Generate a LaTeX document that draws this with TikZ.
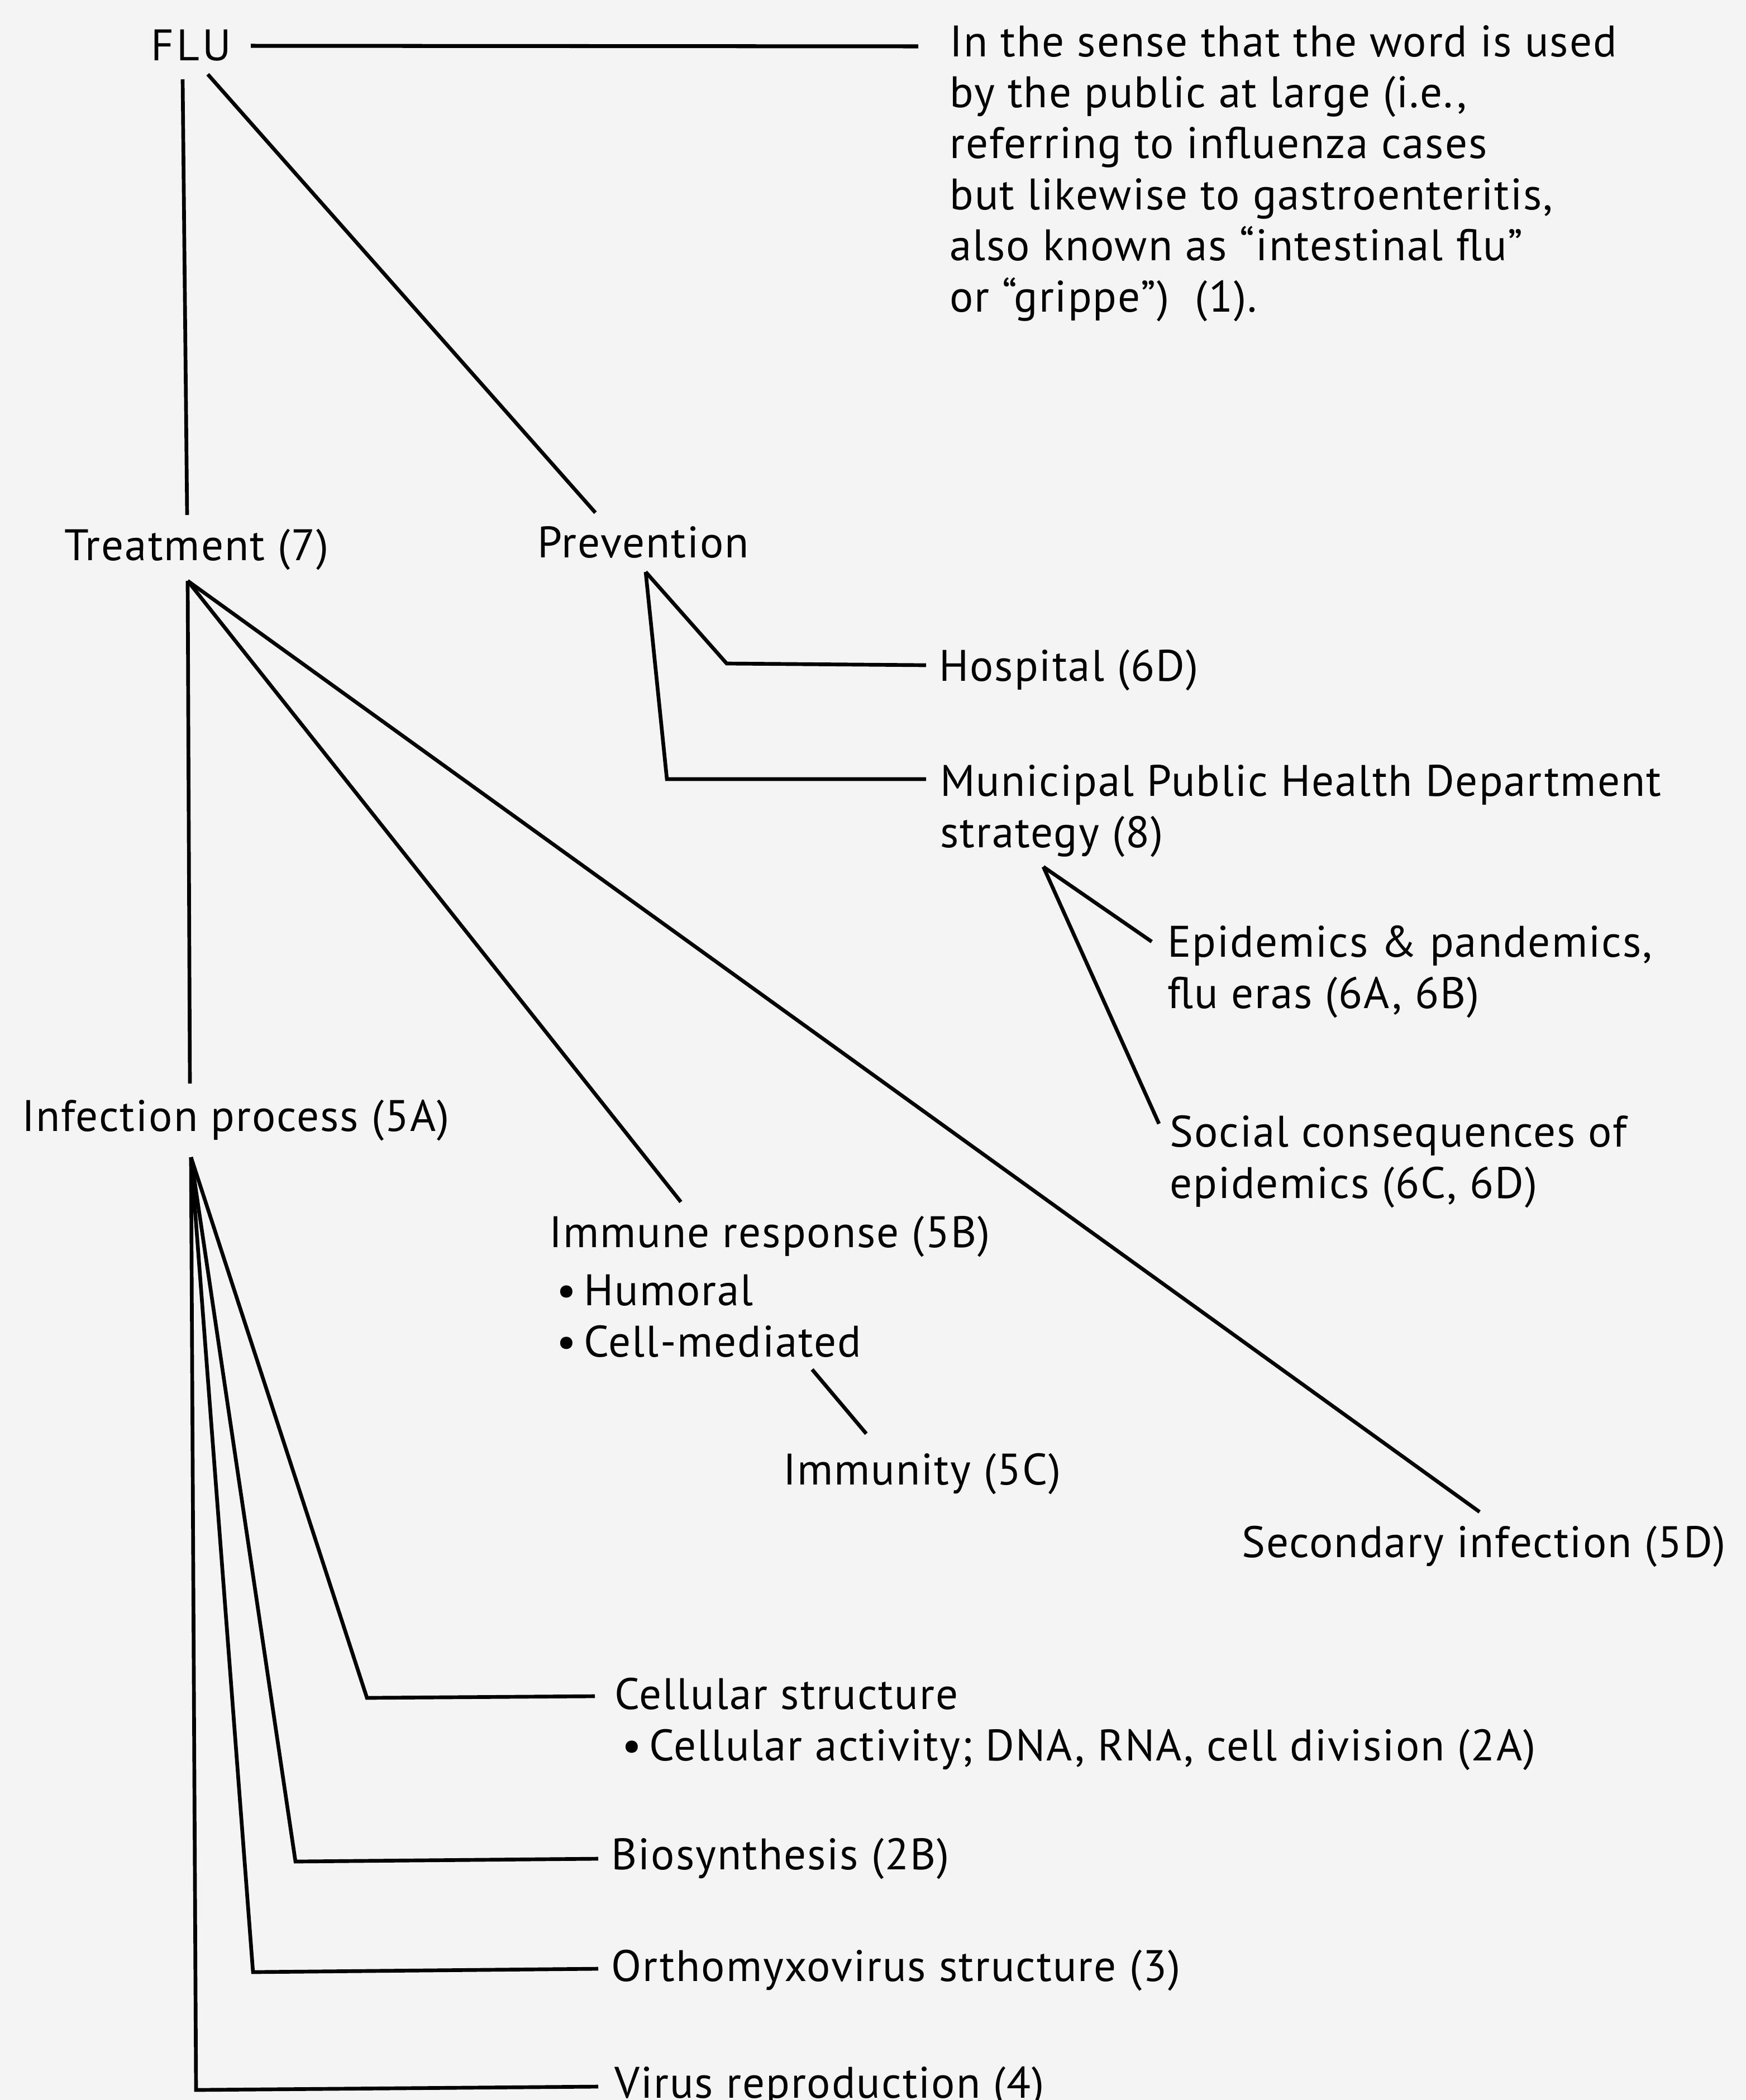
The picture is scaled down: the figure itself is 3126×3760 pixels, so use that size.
\documentclass[tikz,border=0pt]{standalone}
\usepackage{fontspec}
\setmainfont{PT Sans}[LetterSpace=2.5]
\usepackage{tikz}
\usetikzlibrary{positioning}
\definecolor{paper}{gray}{0.955}

\begin{document}
\begin{tikzpicture}[x=0.1mm,y=-0.1mm,line width=1.9pt,
            font=\fontsize{22.5}{26}\selectfont]
            \tikzstyle{every node}=[inner sep=0pt,anchor=base west,align=left]
            \tikzstyle{bar}=[line width=2pt]
            \fill[paper] (0,0) rectangle (3126,3760);
            \useasboundingbox (0,0) rectangle (3126,3760);

            % labels (several lines: placed at the last line)
            \node (flu) at (267,108) {F\kern1.5pt L\kern1.5pt U};
            \node (sense) at (1697,558) {In the sense that the word is used\\
                by the public at large (i.e.,\\
                referring to influenza cases\\
                but likewise to gastroenteritis,\\
                also known as ``intestinal flu''\\
                or ``grippe'')\ \ (1).};
            \node (treat) at (112,1003) {Treatment (7)};
            \node (prev) at (959,998) {Prevention};
            \node (hosp) at (1678,1219) {Hospital (6D)};
            \node (mun) at (1680,1517) {Municipal Public Health Department\\strategy (8)};
            \node (epi) at (2087,1805) {Epidemics \& pandemics,\\flu eras (6A, 6B)};
            \node (soc) at (2091,2145) {Social consequences of\\epidemics (6C, 6D)};
            \node (inf) at (36,2025) {Infection process (5A)};
            \node (imm) at (980,2429) {Immune response (5B)\\[3.5pt]
                \,\textbullet\,Humoral\\\,\textbullet\,Cell-mediated};
            \node (immu) at (1399,2658) {Immunity (5C)};
            \node (sec) at (2220,2788) {Secondary infection (5D)};
            \node (cs) at (1097,3152) {Cellular structure\\
                \,\textbullet\,Cellular activity; DNA, RNA, cell division (2A)};
            \node (bio) at (1091,3347) {Biosynthesis (2B)};
            \node (orth) at (1091,3547) {Orthomyxovirus structure (3)};
            \node (vir) at (1097,3756) {Virus reproduction (4)};

            % line ends
            \coordinate (flu-r) at (449,82);
            \coordinate (flu-a) at (327,142);
            \coordinate (flu-b) at (372,133);
            \coordinate (sense-l) at (1644,83);
            \coordinate (treat-t) at (335,922);
            \coordinate (prev-t) at (1066,918);
            \coordinate (treat-a) at (336,1040);
            \coordinate (inf-t) at (340,1940);
            \coordinate (imm-t) at (1219,2152);
            \coordinate (sec-t) at (2649,2707);
            \coordinate (prev-a) at (1156,1024);
            \coordinate (hosp-k) at (1301,1188);
            \coordinate (hosp-l) at (1658,1191);
            \coordinate (mun-k) at (1194,1395);
            \coordinate (mun-l) at (1658,1395);
            \coordinate (strat-a) at (1868,1552);
            \coordinate (epi-l) at (2062,1686);
            \coordinate (soc-l) at (2075,2012);
            \coordinate (cell-b) at (1454,2452);
            \coordinate (immu-t) at (1551,2567);
            \coordinate (inf-a) at (342,2072);
            \coordinate (cs-k) at (657,3040);
            \coordinate (cs-l) at (1065,3037);
            \coordinate (bio-k) at (529,3333);
            \coordinate (bio-l) at (1071,3328);
            \coordinate (orth-k) at (453,3531);
            \coordinate (orth-l) at (1071,3525);
            \coordinate (vir-k) at (351,3742);
            \coordinate (vir-l) at (1071,3736);

            % from flu
            \draw[bar] (flu-r) -- (sense-l);
            \draw (flu-a) -- (treat-t);
            \draw (flu-b) -- (prev-t);

            % from treatment
            \draw (treat-a) -- (inf-t);
            \draw (treat-a) -- (imm-t);
            \draw (treat-a) -- (sec-t);

            % from prevention
            \draw (prev-a) -- (hosp-k) -- (hosp-l);
            \draw (prev-a) -- (mun-k) -- (mun-l);
            \draw (strat-a) -- (epi-l);
            \draw (strat-a) -- (soc-l);

            % from immune response
            \draw (cell-b) -- (immu-t);

            % from infection process
            \draw (inf-a) -- (cs-k) -- (cs-l);
            \draw (inf-a) -- (bio-k) -- (bio-l);
            \draw (inf-a) -- (orth-k) -- (orth-l);
            \draw (inf-a) -- (vir-k) -- (vir-l);
      \end{tikzpicture}
\end{document}
